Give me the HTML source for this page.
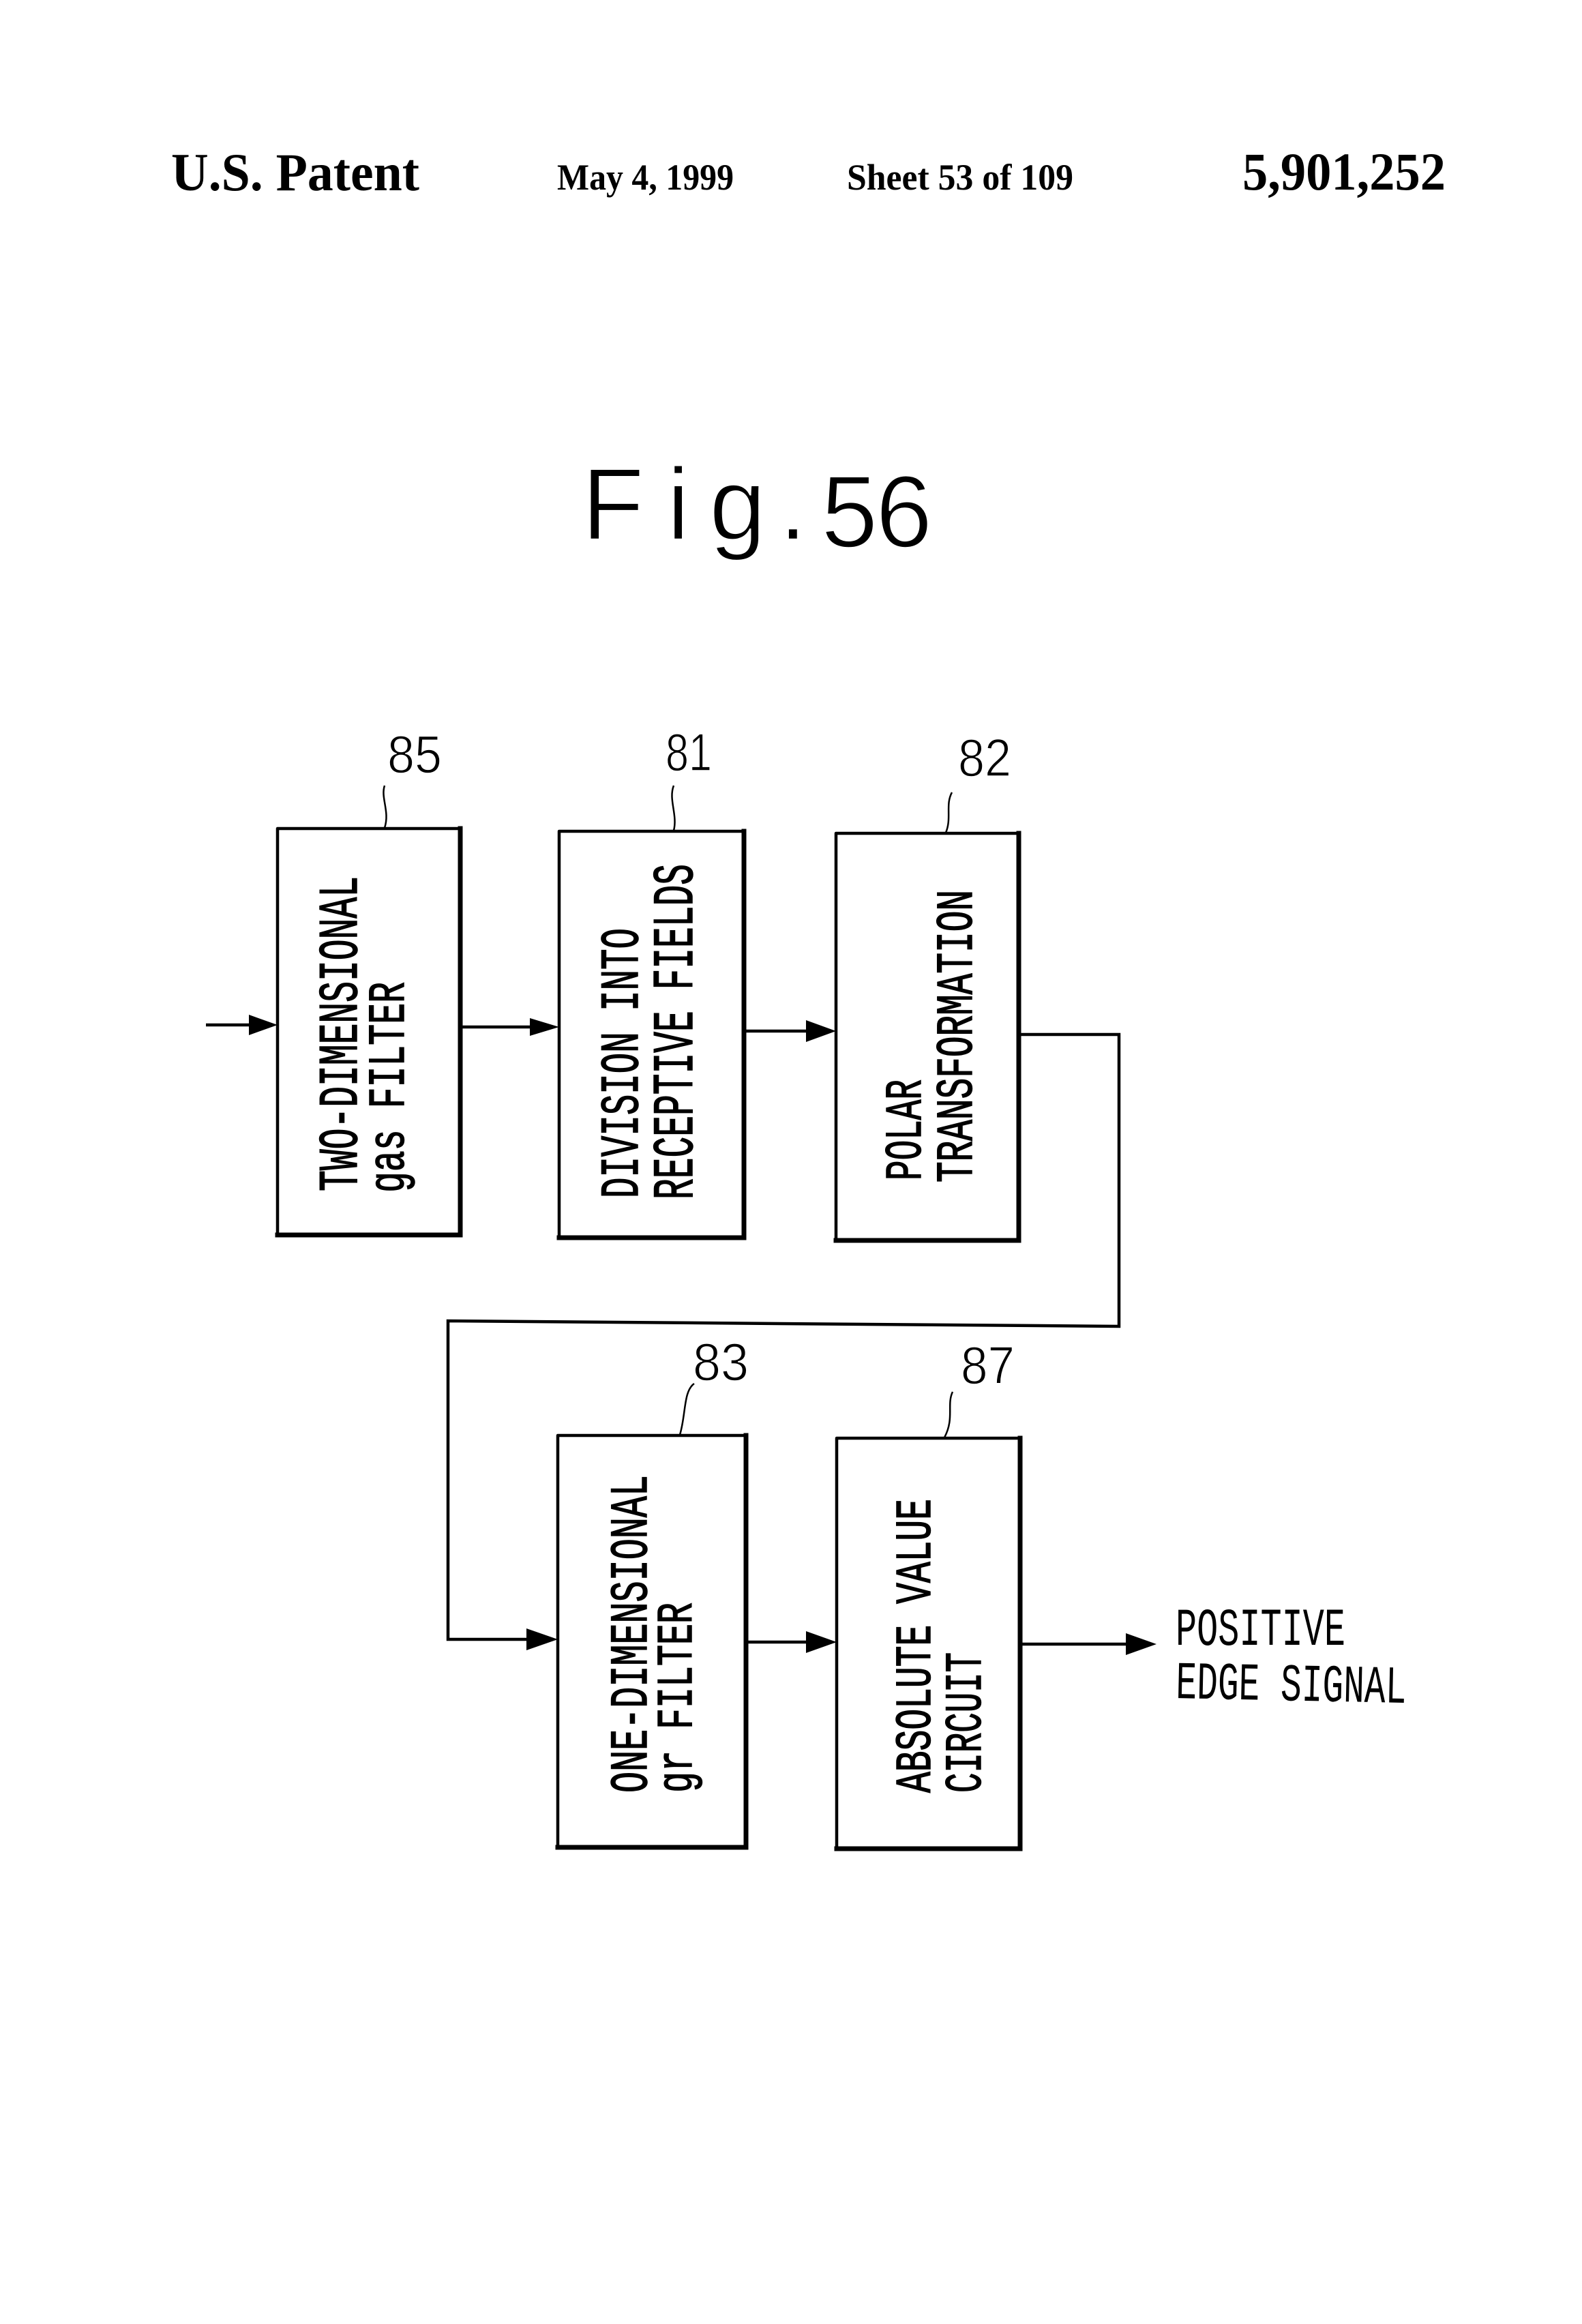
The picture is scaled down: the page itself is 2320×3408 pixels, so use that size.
<!DOCTYPE html>
<html>
<head>
<meta charset="utf-8">
<style>
html,body{margin:0;padding:0;background:#fff;width:2320px;height:3408px;overflow:hidden}
svg{display:block}
.h{font-family:"Liberation Serif",serif;font-weight:bold;fill:#000}
.r{font-family:"Liberation Mono",monospace;font-size:78px;fill:#000;stroke:#000;stroke-width:1.5px}
.n{font-family:"Liberation Sans",sans-serif;font-size:78px;fill:#000;stroke:#fff;stroke-width:1.5px}
.o{font-family:"Liberation Mono",monospace;font-size:78px;fill:#000}
.box{fill:none;stroke:#000;stroke-width:4.5;stroke-linejoin:round}
.th{fill:none;stroke:#000;stroke-width:7;stroke-linecap:square}
.ln{fill:none;stroke:#000;stroke-width:4.5}
.ld{fill:none;stroke:#000;stroke-width:2.5}
</style>
</head>
<body>
<svg xmlns="http://www.w3.org/2000/svg" width="2320" height="3408" viewBox="0 0 2320 3408">
<rect width="2320" height="3408" fill="#fff"/>

<text class="h" x="251" y="279" font-size="78" textLength="364" lengthAdjust="spacingAndGlyphs">U.S. Patent</text>
<text class="h" x="817" y="278" font-size="54" textLength="259" lengthAdjust="spacingAndGlyphs">May 4, 1999</text>
<text class="h" x="1242" y="278" font-size="54" textLength="332" lengthAdjust="spacingAndGlyphs">Sheet 53 of 109</text>
<text class="h" x="1822" y="278" font-size="78" textLength="298" lengthAdjust="spacingAndGlyphs">5,901,252</text>

<text x="853 978 1040 1142 1204 1284" y="791 791 791 791 802 802" font-family="Liberation Sans, sans-serif" font-size="150" fill="#000" stroke="#fff" stroke-width="2.5">Fig.56</text>

<rect class="box" x="407" y="1215" width="268" height="596"/>
<rect class="box" x="820" y="1219" width="270" height="595"/>
<rect class="box" x="1226" y="1222" width="268" height="596"/>
<rect class="box" x="818" y="2105" width="275" height="603"/>
<rect class="box" x="1227" y="2109" width="268" height="601"/>
<path class="th" d="M675 1215V1811H407"/>
<path class="th" d="M1091 1219V1815H820"/>
<path class="th" d="M1494 1222V1819H1226"/>
<path class="th" d="M1094 2105V2709H818"/>
<path class="th" d="M1496 2109V2711H1227"/>

<path class="ln" d="M302 1503H380"/>
<path d="M365 1488L407 1503L365 1518Z"/>
<path class="ln" d="M675 1506H790"/>
<path d="M777 1493L820 1506L777 1519Z"/>
<path class="ln" d="M1090 1512H1195"/>
<path d="M1182 1496L1226 1512L1182 1528Z"/>
<path class="ln" d="M1494 1517H1641V1945L657 1937V2404H785"/>
<path d="M772 2388L818 2404L772 2420Z"/>
<path class="ln" d="M1093 2408H1195"/>
<path d="M1182 2392L1227 2408L1182 2424Z"/>
<path class="ln" d="M1495 2411H1665"/>
<path d="M1651 2395L1696 2411L1651 2427Z"/>

<path class="ld" d="M564 1152C558 1170 572 1190 564 1214"/>
<path class="ld" d="M988 1152C980 1172 994 1195 988 1218"/>
<path class="ld" d="M1396 1162C1386 1180 1396 1200 1387 1221"/>
<path class="ld" d="M1018 2029C1002 2040 1006 2075 997 2104"/>
<path class="ld" d="M1397 2041C1388 2060 1400 2080 1385 2108"/>

<text class="n" x="568" y="1133" textLength="80" lengthAdjust="spacingAndGlyphs">85</text>
<text class="n" x="976" y="1130" textLength="68" lengthAdjust="spacingAndGlyphs">81</text>
<text class="n" x="1405" y="1138" textLength="78" lengthAdjust="spacingAndGlyphs">82</text>
<text class="n" x="1016" y="2024" textLength="82" lengthAdjust="spacingAndGlyphs">83</text>
<text class="n" x="1409" y="2029" textLength="79" lengthAdjust="spacingAndGlyphs">87</text>

<g class="r">
<text font-size="82" transform="translate(523 1747) rotate(-90)" textLength="462" lengthAdjust="spacingAndGlyphs">TWO-DIMENSIONAL</text>
<text font-size="76" transform="translate(592 1749) rotate(-90)" textLength="309" lengthAdjust="spacingAndGlyphs">gas FILTER</text>
<text style="font-size:80px" transform="translate(935 1757) rotate(-90)" textLength="396" lengthAdjust="spacingAndGlyphs">DIVISION INTO</text>
<text style="font-size:84px" transform="translate(1015 1759) rotate(-90)" textLength="492" lengthAdjust="spacingAndGlyphs">RECEPTIVE FIELDS</text>
<text style="font-size:76px" transform="translate(1350 1731) rotate(-90)" textLength="148" lengthAdjust="spacingAndGlyphs">POLAR</text>
<text style="font-size:76px" transform="translate(1425 1734) rotate(-90)" textLength="429" lengthAdjust="spacingAndGlyphs">TRANSFORMATION</text>
<text style="font-size:78px" transform="translate(948 2629) rotate(-90)" textLength="466" lengthAdjust="spacingAndGlyphs">ONE-DIMENSIONAL</text>
<text style="font-size:74px" transform="translate(1014 2629) rotate(-90)" textLength="279" lengthAdjust="spacingAndGlyphs">gr FILTER</text>
<text style="font-size:74px" transform="translate(1364 2629) rotate(-90)" textLength="431" lengthAdjust="spacingAndGlyphs">ABSOLUTE VALUE</text>
<text style="font-size:76px" transform="translate(1438 2629) rotate(-90)" textLength="206" lengthAdjust="spacingAndGlyphs">CIRCUIT</text>
</g>

<text class="o" x="1724" y="2412" textLength="249" lengthAdjust="spacingAndGlyphs">POSITIVE</text>
<text class="o" transform="rotate(1.2 1724 2490)" x="1724" y="2490" textLength="338" lengthAdjust="spacingAndGlyphs">EDGE SIGNAL</text>
</svg>
</body>
</html>
